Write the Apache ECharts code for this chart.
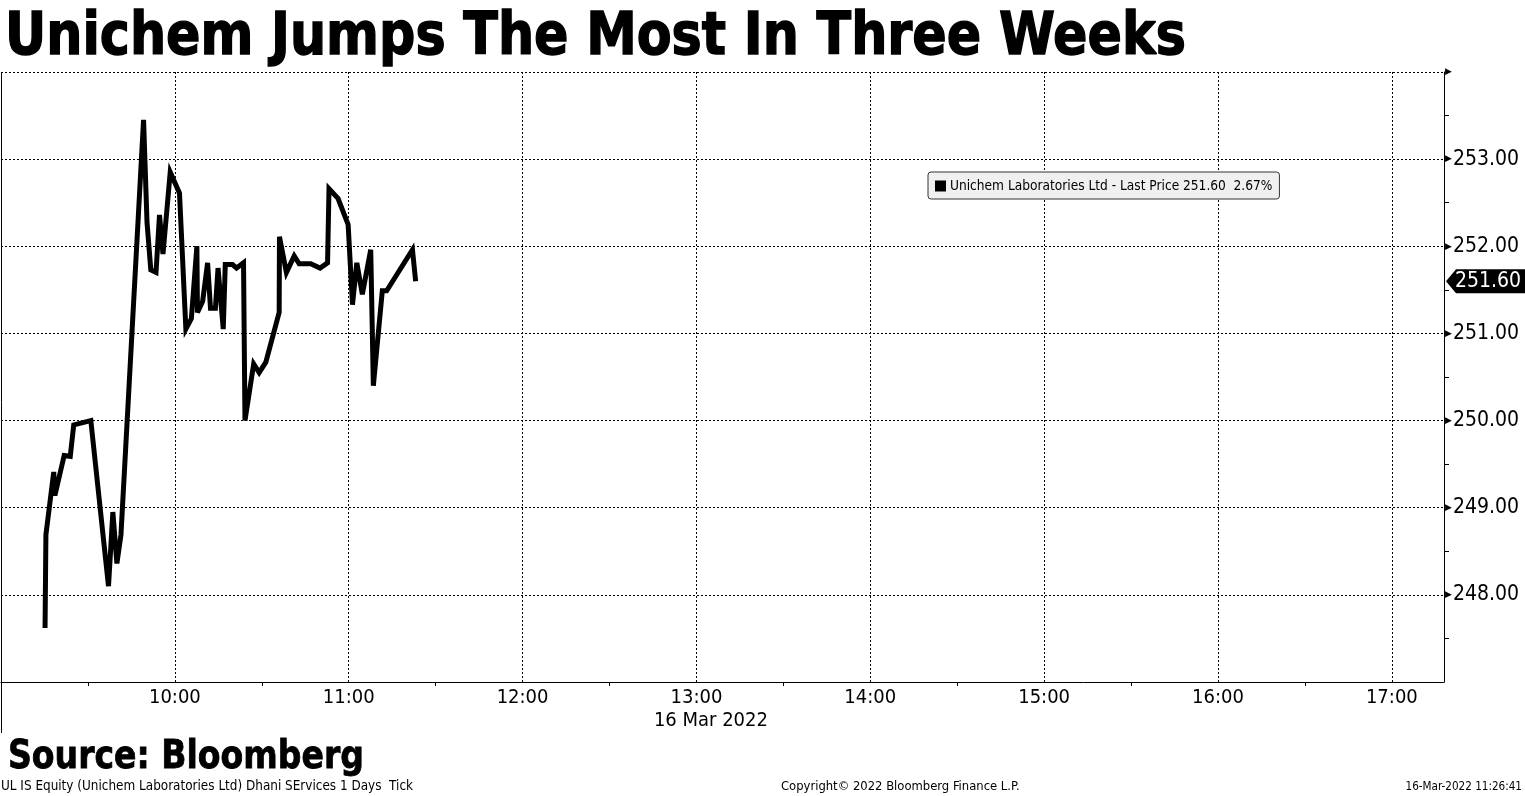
<!DOCTYPE html>
<html>
<head>
<meta charset="utf-8">
<script src="https://cdn.jsdelivr.net/npm/echarts@6/dist/echarts.min.js"></script>
<style>
html,body{margin:0;padding:0;background:#fff;}
#chart{width:1525px;height:796px;}
</style>
</head>
<body>
<div id="chart"></div>
<script>
// ---- data ----
const times = ["09:15:12","09:15:30","09:18:12","09:18:36","09:21:48","09:23:54","09:25:06","09:31:00",
"09:37:06","09:38:36","09:40:00","09:41:24","09:49:12","09:50:24","09:51:42","09:53:30","09:54:42",
"09:55:54","09:58:24","10:01:36","10:03:48","10:05:42","10:07:36","10:07:48","10:09:36","10:11:18",
"10:12:18","10:14:00","10:14:54","10:16:42","10:17:24","10:19:54","10:21:18","10:23:42","10:24:12",
"10:27:12","10:29:06","10:31:24","10:36:00","10:36:06","10:38:30","10:41:12","10:42:54","10:46:54",
"10:50:06","10:52:42","10:53:12","10:56:18","10:59:48","11:01:18","11:02:48","11:04:42","11:07:36",
"11:08:30","11:11:36","11:13:06","11:22:00","11:23:06"];
const prices = [247.62,248.69,249.41,249.14,249.60,249.59,249.95,250.00,
248.10,248.95,248.36,248.69,253.45,252.27,251.73,251.70,252.36,
251.91,252.85,252.61,251.05,251.17,252.00,251.24,251.37,251.81,
251.29,251.29,251.75,251.05,251.79,251.79,251.75,251.81,250.00,
250.65,250.55,250.67,251.24,252.11,251.70,251.89,251.80,251.80,
251.75,251.81,252.66,252.55,252.25,251.33,251.81,251.45,251.96,
250.40,251.49,251.49,251.96,251.60];
const hourTicks = ["09:00","10:00","11:00","12:00","13:00","14:00","15:00","16:00","17:00"];
const halfHourTicks = ["09:30","10:30","11:30","12:30","13:30","14:30","15:30","16:30"];
const axisEnd = "17:18";
const seriesName = "Unichem Laboratories Ltd - Last Price";
const lastPriceText = "251.60";
const changeText = "2.67%";
const dateLabel = "16 Mar 2022";
const titleText = "Unichem Jumps The Most In Three Weeks";
const sourceText = "Source: Bloomberg";
const footLeft = "UL IS Equity (Unichem Laboratories Ltd) Dhani SErvices 1 Days  Tick";
const footMid = "Copyright\u00A9 2022 Bloomberg Finance L.P.";
const footRight = "16-Mar-2022 11:26:41";

// ---- helpers ----
function toMin(s){const p=s.split(':').map(Number);return p[0]*60+p[1]+(p[2]||0)/60;}
function fmt(m){const h=Math.floor(m/60), mm=Math.round(m-h*60);return (h<10?'0':'')+h+':'+(mm<10?'0':'')+mm;}
const data = times.map((t,i)=>[toMin(t),prices[i]]);
const xMin = toMin(hourTicks[0]), xMax = toMin(axisEnd);
const FONT = "'DejaVu Sans Condensed','DejaVu Sans',sans-serif";
const BOLD = "bold 58px 'DejaVu Sans',sans-serif";

const chart = echarts.init(document.getElementById('chart'));
const option = {
  animation:false,
  backgroundColor:'#fff',
  grid:{left:1,top:72,width:1443,height:610,containLabel:false},
  legend:{
    left:928,top:172,orient:'horizontal',
    data:[{name:seriesName,icon:'rect'}],
    itemWidth:11,itemHeight:11,itemGap:4,
    backgroundColor:'#f0f0f0',borderColor:'#333',borderWidth:1,borderRadius:3,
    padding:[7,7,6,7],
    formatter:function(n){return n+' '+lastPriceText+'  '+changeText;},
    textStyle:{fontFamily:FONT,fontSize:13.6,color:'#000',padding:[0,0,0,-1]},
    selectedMode:false
  },
  xAxis:[
    {type:'value',min:xMin,max:xMax,interval:60,
     axisLine:{show:true,lineStyle:{color:'#000',width:1}},
     axisTick:{show:false},
     axisLabel:{color:'#000',fontFamily:FONT,fontSize:20,margin:6,showMinLabel:false,showMaxLabel:false,
       formatter:function(v){return fmt(v);}},
     splitLine:{show:true,lineStyle:{color:'#000',type:[2,2],width:1}}
    },
    {type:'value',min:xMin,max:xMax,position:'bottom',
     axisLine:{show:false},
     axisTick:{show:true,length:4,lineStyle:{color:'#000',width:1},customValues:halfHourTicks.map(toMin)},
     axisLabel:{show:false},
     splitLine:{show:false}
    }
  ],
  yAxis:{type:'value',position:'right',min:247,max:254,interval:1,
    axisLine:{show:true,lineStyle:{color:'#000',width:1}},
    axisTick:{show:false},
    minorTick:{show:true,splitNumber:2,length:5,lineStyle:{color:'#000',width:1}},
    axisLabel:{color:'#000',fontFamily:FONT,fontSize:21,margin:1,showMinLabel:true,showMaxLabel:true,
      formatter:function(v){
        if(v<=247) return '';
        if(v>=254) return '{t|\u25B6}';
        return '{t|\u25B6}{v|'+v.toFixed(2)+'}';
      },
      rich:{t:{fontSize:9,fontFamily:"'DejaVu Sans',sans-serif",color:'#000',padding:[0,1,0,0]},
            v:{fontSize:21,fontFamily:FONT,color:'#000'}}
    },
    splitLine:{show:true,lineStyle:{color:'#000',type:[2,2],width:1}}
  },
  series:[{
    name:seriesName,type:'line',data:data,showSymbol:false,symbol:'none',
    xAxisIndex:0,yAxisIndex:0,
    itemStyle:{color:'#000'},
    lineStyle:{color:'#000',width:5,join:'miter',miterLimit:4}
  }]
};
chart.setOption(option);

// pixel positions through the library's scales
const yLast = chart.convertToPixel({yAxisIndex:0}, prices[prices.length-1]);
const xRight = chart.convertToPixel({xAxisIndex:0}, xMax);
const xLeft = chart.convertToPixel({xAxisIndex:0}, xMin);
const yTop = chart.convertToPixel({yAxisIndex:0}, 254);
const yBot = chart.convertToPixel({yAxisIndex:0}, 247);
const xDate = chart.convertToPixel({xAxisIndex:0}, toMin("13:05"));

// measure text widths to fit the reference extents
const cv = document.createElement('canvas').getContext('2d');
cv.font = BOLD; const wTitle = cv.measureText(titleText).width;
const SRC = "bold 39px 'DejaVu Sans',sans-serif";
cv.font = SRC; const wSrc = cv.measureText(sourceText).width;

chart.setOption({
  graphic:[
    {type:'text',x:5,y:10,scaleX:1181/wTitle,style:{text:titleText,fill:'#000',stroke:'#000',lineWidth:1.4,font:BOLD,textVerticalAlign:'top'},z:100},
    {type:'text',x:8,y:738,scaleX:356/wSrc,style:{text:sourceText,fill:'#000',stroke:'#000',lineWidth:0.8,font:SRC,textVerticalAlign:'top'},z:100},
    {type:'line',shape:{x1:xLeft+0.5,y1:yTop,x2:xLeft+0.5,y2:yBot+51},style:{stroke:'#000',lineWidth:1},z:100},
    {type:'polygon',shape:{points:[[xRight+2,yLast],[xRight+12,yLast-12],[1525,yLast-12],[1525,yLast+12],[xRight+12,yLast+12]]},
      style:{fill:'#000'},z:100},
    {type:'text',x:xRight+11,y:yLast,style:{text:lastPriceText,fill:'#fff',font:"21px "+FONT,textVerticalAlign:'middle',textAlign:'left'},z:101},
    {type:'text',x:xDate,y:yBot+39,style:{text:dateLabel,fill:'#000',font:"20px "+FONT,textAlign:'center',textVerticalAlign:'middle'},z:100},
    {type:'text',x:1,y:787,style:{text:footLeft,fill:'#000',font:"13.4px "+FONT,textVerticalAlign:'middle'},z:100},
    {type:'text',x:781,y:787,style:{text:footMid,fill:'#000',font:"12.9px "+FONT,textVerticalAlign:'middle'},z:100},
    {type:'text',x:1522,y:787,style:{text:footRight,fill:'#000',font:"11.6px "+FONT,textVerticalAlign:'middle',textAlign:'right'},z:100}
  ]
});
</script>
</body>
</html>
